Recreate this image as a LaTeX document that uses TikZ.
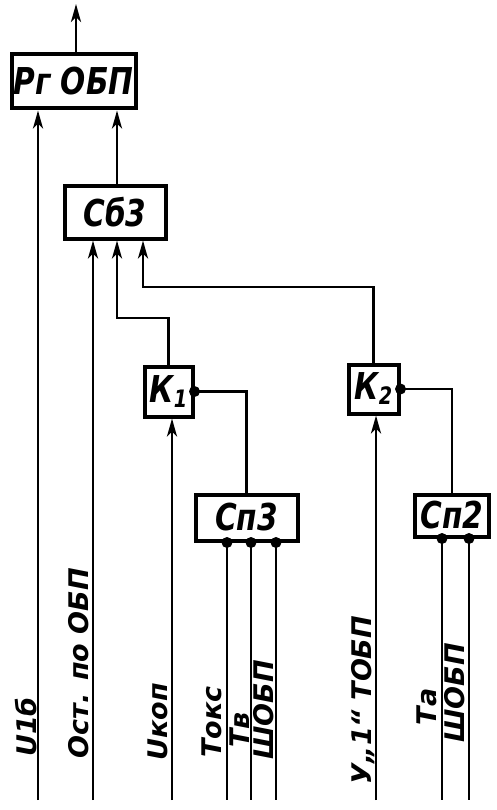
\documentclass[tikz,border=0pt]{standalone}
\usepackage{fontspec}
\setmainfont{DejaVu Sans}
\newfontfamily\hand{DejaVu Sans}[FakeStretch=0.8]
\newfontfamily\handlbl{DejaVu Sans}
\usetikzlibrary{arrows.meta}
\begin{document}
\begin{tikzpicture}[x=1pt,y=-1pt,
  box/.style={draw, line width=4pt, inner sep=0pt, font=\hand\bfseries\itshape\fontsize{37}{37}\selectfont},
  wire/.style={line width=2.8pt},
  arr/.style={wire, -{Stealth[length=18pt,width=10pt,inset=5pt]}},
  lbl/.style={rotate=90, inner sep=0pt, font=\handlbl\bfseries\itshape\fontsize{27}{27}\selectfont},
  dot/.style={circle, fill, inner sep=0pt, minimum size=11pt}]
\useasboundingbox (0,0) rectangle (496,810);
% boxes
\node[box, minimum width=124pt, minimum height=54pt] (rg) at (73.5,81.5) {Рг ОБП};
\node[box, minimum width=101pt, minimum height=52pt] (sb) at (115,212.5) {Сб3};
\node[box, minimum width=48pt, minimum height=50pt] (k1) at (168.5,391.5) {К\raisebox{-5pt}{\fontsize{24}{24}\selectfont 1}};
\node[box, minimum width=50pt, minimum height=49pt] (k2) at (373.5,389) {К\raisebox{-5pt}{\fontsize{24}{24}\selectfont 2}};
\node[box, minimum width=102pt, minimum height=46pt] (sp3) at (246.5,517.5) {Сп3};
\node[box, minimum width=74pt, minimum height=42pt] (sp2) at (452,515.5) {Сп2};
% free ends
\coordinate (top) at (76,4);
\coordinate (b1) at (38,800);
\coordinate (b2) at (93,800);
\coordinate (b3) at (172,800);
\coordinate (b4) at (376,800);
\coordinate (b5) at (227,800);
\coordinate (b6) at (251,800);
\coordinate (b7) at (276,800);
\coordinate (b8) at (442,800);
\coordinate (b9) at (469,800);
% connectors
\draw[arr] (76,0 |- rg.north) -- (top);
\draw[arr] (b1) -- (b1 |- rg.south);
\draw[arr] (117,0 |- sb.north) -- (117,0 |- rg.south);
\draw[arr] (b2) -- (b2 |- sb.south);
\draw[arr] (k1.north) |- (117,318) -- (117,0 |- sb.south);
\draw[arr] (k2.north) |- (143,287) -- (143,0 |- sb.south);
\draw[arr] (b3) -- (b3 |- k1.south);
\draw[arr] (b4) -- (b4 |- k2.south);
\draw[wire] (k1.east) -| (sp3.north);
\draw[wire] (k2.east) -| (sp2.north);
\node[dot] (d1) at (k1.east) {};
\node[dot] (d2) at (k2.east) {};
\node[dot] (d5) at (b5 |- sp3.south) {};
\node[dot] (d6) at (b6 |- sp3.south) {};
\node[dot] (d7) at (b7 |- sp3.south) {};
\node[dot] (d8) at (b8 |- sp2.south) {};
\node[dot] (d9) at (b9 |- sp2.south) {};
\draw[wire] (d5.center) -- (b5);
\draw[wire] (d6.center) -- (b6);
\draw[wire] (d7.center) -- (b7);
\draw[wire] (d8.center) -- (b8);
\draw[wire] (d9.center) -- (b9);
% labels
\node[lbl] (l1) at (26,727) {U1б};
\node[lbl] (l2) at (79,663) {Ост. по ОБП};
\node[lbl] (l3) at (158,722) {Uкоп};
\node[lbl] (l4) at (212,722) {Токс};
\node[lbl] (l5) at (240,730) {Тв};
\node[lbl] (l6) at (264,710) {ШОБП};
\node[lbl] (l7) at (363,700) {У„1“ ТОБП};
\node[lbl] (l8) at (427,707) {Та};
\node[lbl] (l9) at (455,693) {ШОБП};
\end{tikzpicture}
\end{document}
